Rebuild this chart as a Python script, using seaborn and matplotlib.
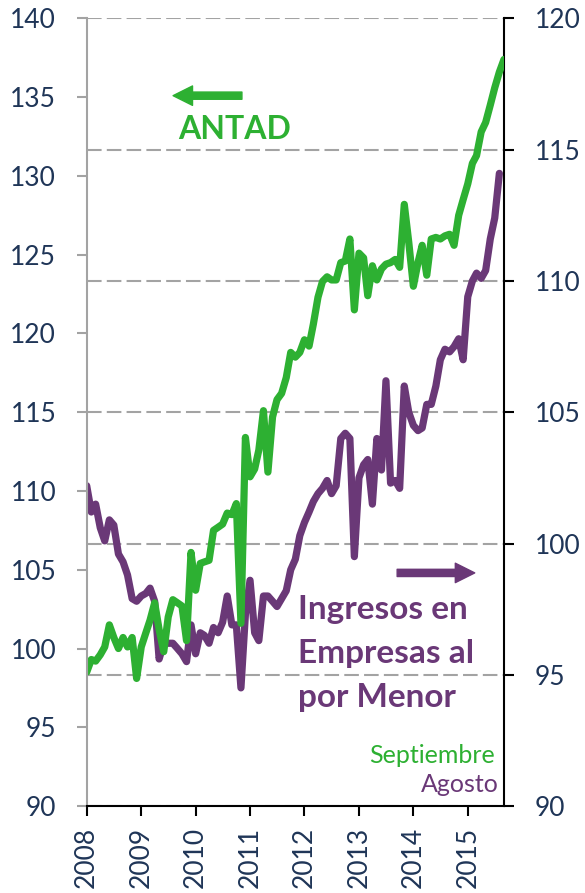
import matplotlib
matplotlib.use('Agg')
import matplotlib.pyplot as plt
import matplotlib.dates as mdates
import numpy as np
import pandas as pd
import seaborn as sns

# monthly series, Jan 2008 onwards
antad = [98.5, 99.3, 99.2, 99.6, 100.1, 101.5, 100.7, 100.0, 100.7, 100.1, 100.7, 98.1,
         100.1, 101.0, 101.8, 102.9, 101.2, 99.8, 102.0, 103.1, 102.9, 102.7, 100.5, 106.1,
         103.7, 105.4, 105.5, 105.6, 107.5, 107.7, 107.9, 108.6, 108.5, 109.2, 101.6, 113.4,
         110.9, 111.4, 112.6, 115.1, 111.2, 114.7, 115.8, 116.2, 117.2, 118.8, 118.5, 118.8,
         119.6, 119.2, 120.6, 122.3, 123.3, 123.6, 123.4, 123.4, 124.5, 124.6, 126.0, 121.5,
         125.1, 124.8, 122.4, 124.3, 123.4, 124.1, 124.4, 124.5, 124.7, 124.2, 128.2, 125.8,
         123.0, 124.5, 125.6, 123.7, 126.0, 126.1, 126.0, 126.2, 126.3, 125.6, 127.5, 128.5,
         129.5, 130.8, 131.3, 132.8, 133.4, 134.5, 135.6, 136.6, 137.4]

ingresos = [102.2, 101.2, 101.5, 100.6, 100.1, 100.9, 100.7, 99.6, 99.3, 98.8, 97.9, 97.8,
            98.0, 98.1, 98.3, 97.8, 95.6, 96.2, 96.2, 96.2, 96.0, 95.8, 95.5, 96.9,
            95.8, 96.6, 96.5, 96.2, 96.8, 96.6, 97.0, 98.0, 96.9, 96.9, 94.5, 97.3,
            98.6, 96.6, 96.3, 98.0, 98.0, 97.8, 97.6, 97.9, 98.2, 99.0, 99.4, 100.3,
            100.8, 101.2, 101.6, 101.9, 102.1, 102.4, 101.9, 102.2, 104.0, 104.2, 104.0, 99.5,
            102.5, 103.0, 103.2, 101.5, 104.0, 102.8, 106.2, 102.3, 102.4, 102.1, 106.0, 105.0,
            104.5, 104.3, 104.4, 105.3, 105.3, 106.0, 107.0, 107.4, 107.3, 107.5, 107.8, 107.0,
            109.4, 110.0, 110.3, 110.1, 110.4, 111.6, 112.4, 114.1]

left_ticks = list(range(90, 141, 5))
right_ticks = list(range(90, 121, 5))
years = list(range(2008, 2016))

green = '#2DB032'
purple = '#6A3877'
navy = '#1F3557'

sns.set_style('white')
plt.rcParams['font.family'] = ['Lato', 'DejaVu Sans']

df_a = pd.DataFrame({'fecha': pd.date_range('2008-01-01', periods=len(antad), freq='MS'),
                     'valor': antad})
df_i = pd.DataFrame({'fecha': pd.date_range('2008-01-01', periods=len(ingresos), freq='MS'),
                     'valor': ingresos})

fig = plt.figure(figsize=(5.85, 8.93), dpi=100)
ax = fig.add_axes([0.1482, 0.0974, 0.7133, 0.8819])
ax2 = ax.twinx()

# purple series and the grid go on the back axis
ax.set_zorder(2)
ax2.set_zorder(1)
ax.patch.set_visible(False)
ax2.set_facecolor('#F3FBF3')

sns.lineplot(data=df_i, x='fecha', y='valor', ax=ax2, color=purple, linewidth=5.2)
sns.lineplot(data=df_a, x='fecha', y='valor', ax=ax, color=green, linewidth=5.2)

ax.set_xlim(pd.Timestamp('2008-01-01'), pd.Timestamp('2015-09-01'))
ax.set_ylim(90, 140)
ax2.set_ylim(90, 120)
ax.set_yticks(left_ticks)
ax2.set_yticks(right_ticks)
ax.set_xticks([pd.Timestamp(f'{y}-01-01') for y in years])
ax.set_xticklabels([str(y) for y in years], rotation=90)

ax2.grid(axis='y', color='#A3A3A3', linewidth=1.5, linestyle=(0, (7, 2.5)))
ax.grid(False)

for a in (ax, ax2):
    a.set_xlabel('')
    a.set_ylabel('')
    a.spines['top'].set_visible(False)
ax.spines['right'].set_visible(False)
ax2.spines['left'].set_visible(False)
ax2.spines['bottom'].set_visible(False)
ax.spines['left'].set_color('#A3A3A3')
ax.spines['left'].set_linewidth(1.5)
ax.spines['bottom'].set_color('black')
ax.spines['bottom'].set_linewidth(1.5)
ax2.spines['right'].set_color('black')
ax2.spines['right'].set_linewidth(1.5)

ax.tick_params(axis='y', left=True, length=7, width=1.5, color='#A3A3A3',
               labelcolor=navy, labelsize=19, pad=15)
ax.tick_params(axis='x', bottom=True, length=7, width=1.5, color='black',
               labelcolor=navy, labelsize=19, pad=8)
ax2.tick_params(axis='y', right=True, length=7, width=1.5, color='black',
                labelcolor=navy, labelsize=19, pad=15)

# annotations
ax.annotate('', xy=(0.207, 0.902), xytext=(0.372, 0.902), xycoords='axes fraction',
            arrowprops=dict(arrowstyle='simple,head_length=0.7,head_width=0.7,tail_width=0.26',
                            color=green, shrinkA=0, shrinkB=0, mutation_scale=20))
ax.text(0.219, 0.847, 'ANTAD', transform=ax.transAxes, color=green,
        fontsize=23, fontweight='bold', va='baseline', ha='left')

ax.annotate('', xy=(0.930, 0.296), xytext=(0.744, 0.296), xycoords='axes fraction',
            arrowprops=dict(arrowstyle='simple,head_length=0.7,head_width=0.7,tail_width=0.26',
                            color=purple, shrinkA=0, shrinkB=0, mutation_scale=20))
for line, yb in zip(['Ingresos en', 'Empresas al', 'por Menor'], [0.237, 0.181, 0.126]):
    ax.text(0.507, yb, line, transform=ax.transAxes, color=purple,
            fontsize=24, fontweight='bold', va='baseline', ha='left')

ax.text(0.979, 0.0546, 'Septiembre', transform=ax.transAxes, color=green,
        fontsize=18, va='baseline', ha='right')
ax.text(0.988, 0.018, 'Agosto', transform=ax.transAxes, color=purple,
        fontsize=18, va='baseline', ha='right')

fig.savefig('out.png', dpi=100)
